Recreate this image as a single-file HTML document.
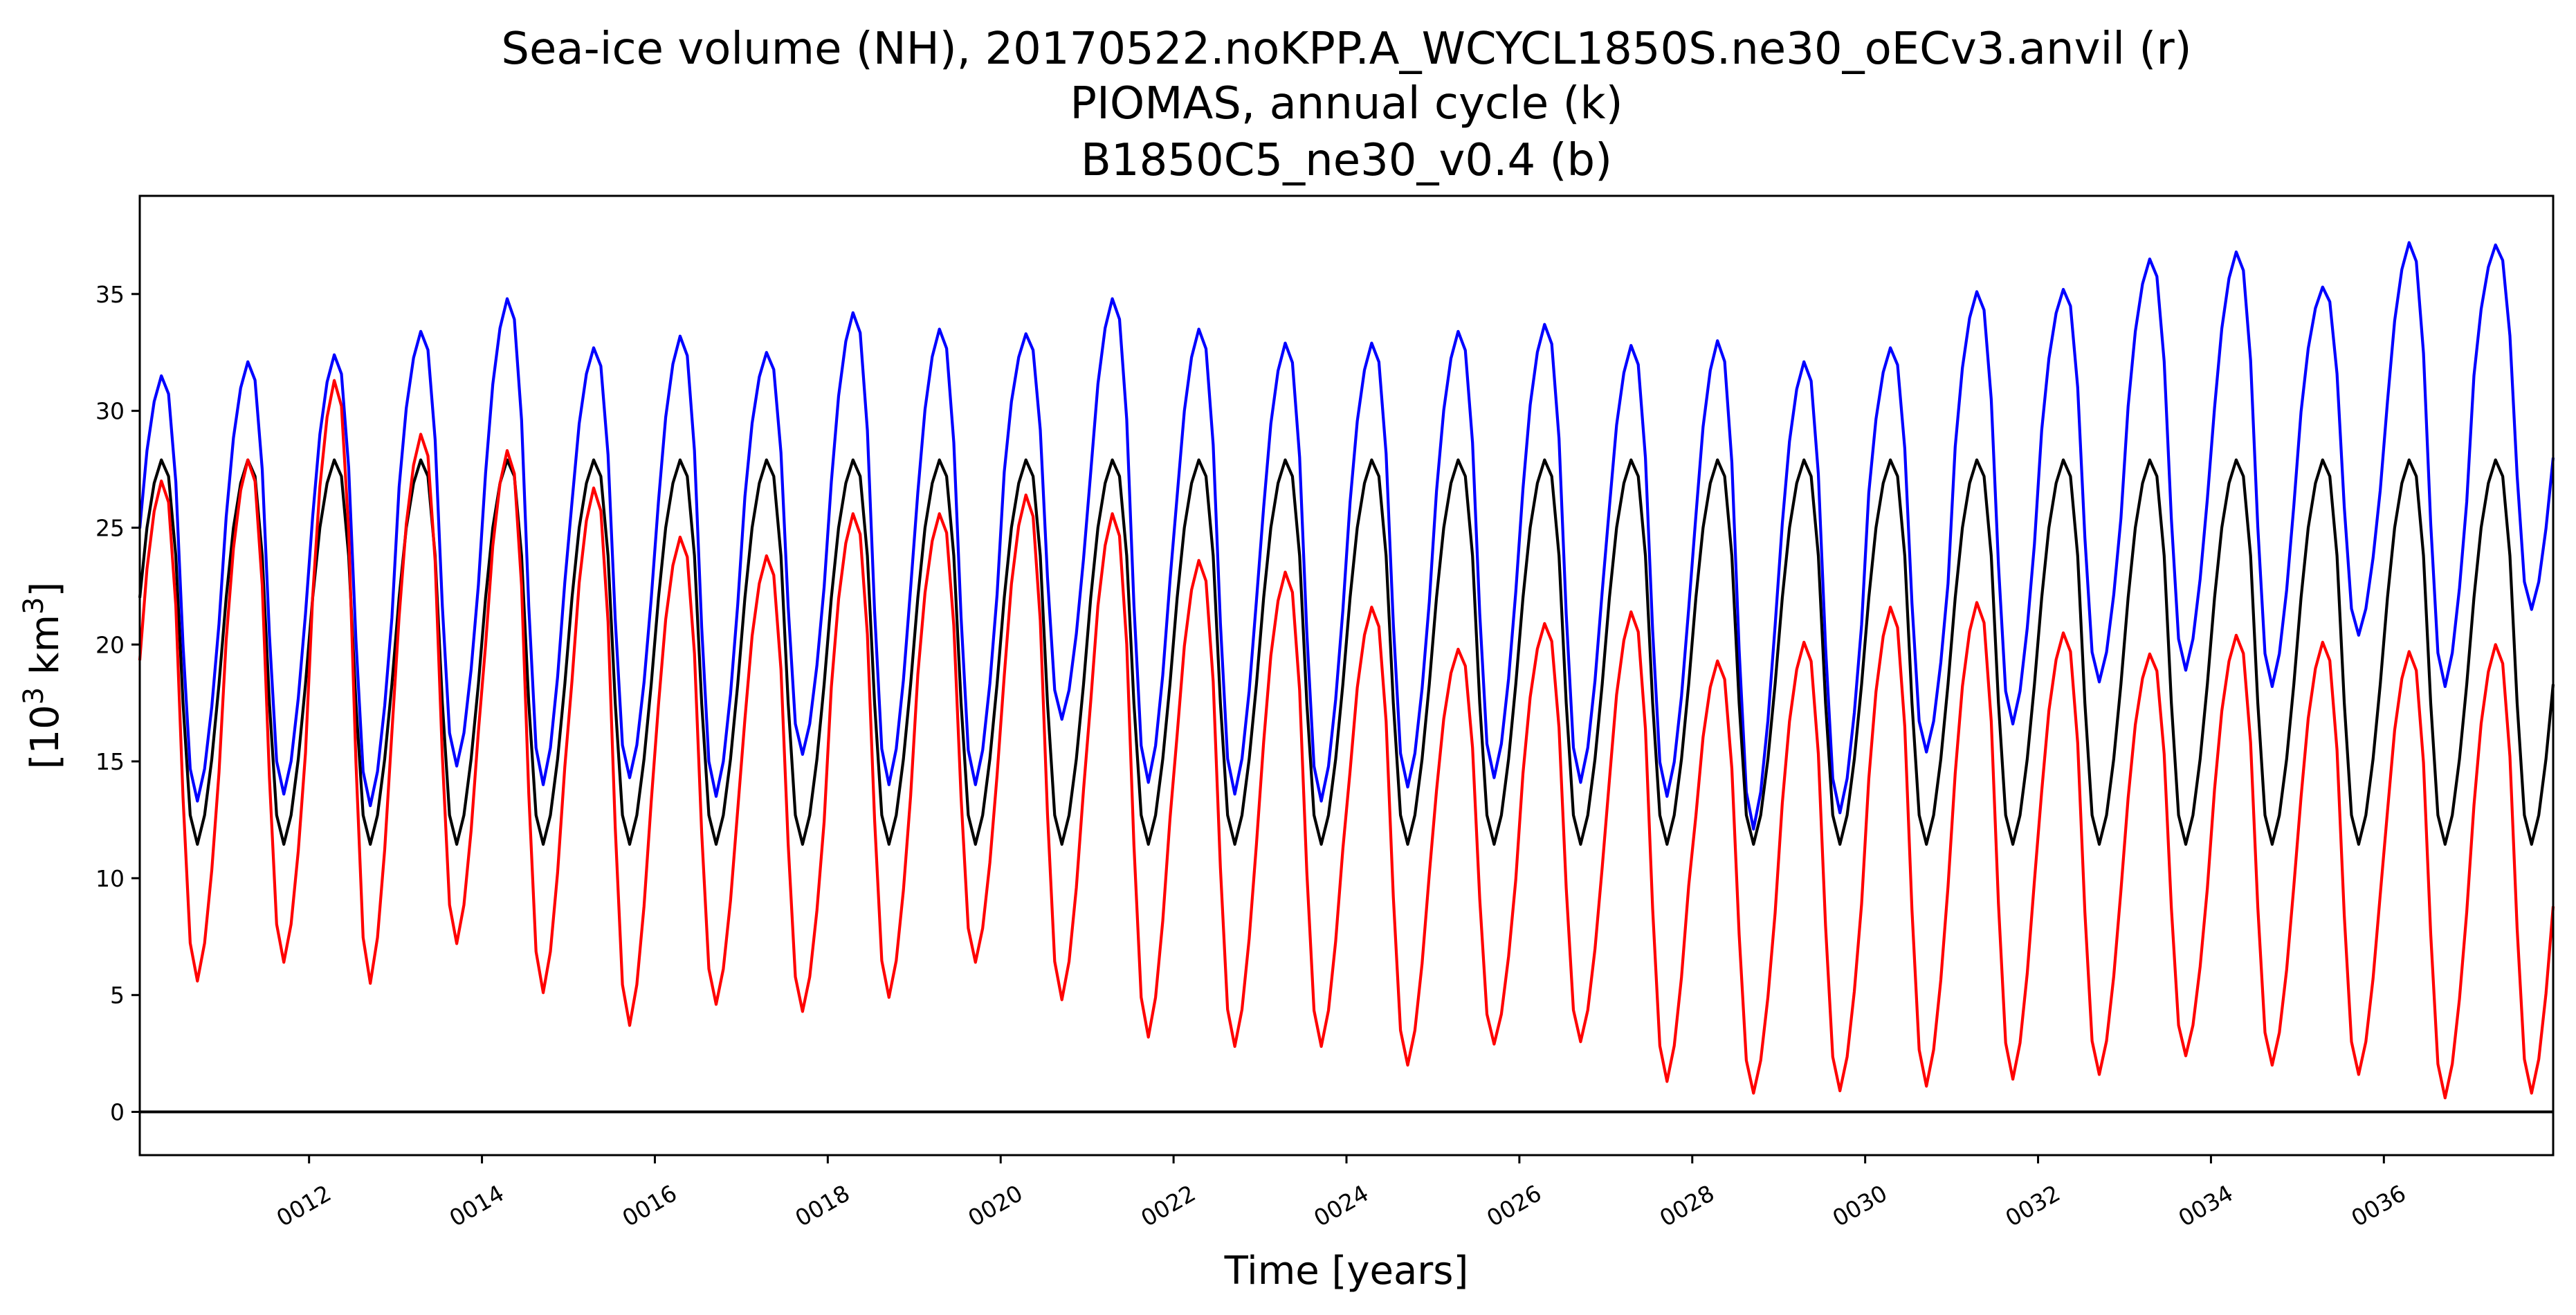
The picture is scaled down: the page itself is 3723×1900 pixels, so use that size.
<!DOCTYPE html>
<html><head><meta charset="utf-8">
<style>
html,body{margin:0;padding:0;background:#fff;}
svg{display:block;font-family:"DejaVu Sans","Liberation Sans",sans-serif;}
</style></head>
<body>
<svg id="chart" width="3723" height="1900" viewBox="0 0 3723 1900" xmlns="http://www.w3.org/2000/svg">
  <rect x="0" y="0" width="3723" height="1900" fill="#fff"/>
  <g font-size="64" text-anchor="middle" fill="#000">
    <text x="1946" y="92">Sea-ice volume (NH), 20170522.noKPP.A_WCYCL1850S.ne30_oECv3.anvil (r)</text>
    <text x="1946" y="171">PIOMAS, annual cycle (k)</text>
    <text x="1946" y="253">B1850C5_ne30_v0.4 (b)</text>
  </g>
  <g id="grid"></g>
  <g id="series"></g>
  <g id="axes"></g>
  <text x="1946" y="1855" font-size="56" text-anchor="middle">Time [years]</text>
  <text transform="translate(84,976) rotate(-90)" font-size="56" text-anchor="middle">[10<tspan font-size="40" dy="-22">3</tspan><tspan dy="22"> km</tspan><tspan font-size="40" dy="-22">3</tspan><tspan dy="22">]</tspan></text>
</svg>
<script>
// PIOMAS monthly climatology (Jan..Dec), 10^3 km^3
const piomasClim = [22.0, 25.0, 26.9, 27.9, 27.2, 23.8, 17.5, 12.7, 11.45, 12.7, 15.1, 18.3];
// Model years 0010..0037
const years = [10,11,12,13,14,15,16,17,18,19,20,21,22,23,24,25,26,27,28,29,30,31,32,33,34,35,36,37];
// Red run (anvil): annual max (spring) and min (Sep)
const redMax = [27.0,27.9,31.3,29.0,28.3,26.7,24.6,23.8,25.6,25.6,26.4,25.6,23.6,23.1,21.6,19.8,20.9,21.4,19.3,20.1,21.6,21.8,20.5,19.6,20.4,20.1,19.7,20.0];
const redMin = [5.6,6.4,5.5,7.2,5.1,3.7,4.6,4.3,4.9,6.4,4.8,3.2,2.8,2.8,2.0,2.9,3.0,1.3,0.8,0.9,1.1,1.4,1.6,2.4,2.0,1.6,0.6,0.8];
// Blue run (B1850C5): annual max and min
const blueMax = [31.5,32.1,32.4,33.4,34.8,32.7,33.2,32.5,34.2,33.5,33.3,34.8,33.5,32.9,32.9,33.4,33.7,32.8,33.0,32.1,32.7,35.1,35.2,36.5,36.8,35.3,37.2,37.1];
const blueMin = [13.3,13.6,13.1,14.8,14.0,14.3,13.5,15.3,14.0,14.0,16.8,14.1,13.6,13.3,13.9,14.3,14.1,13.5,12.1,12.8,15.4,16.6,18.4,18.9,18.2,20.4,18.2,21.5];
const yTicks = [0,5,10,15,20,25,30,35];
const xTickLabels = ["0012","0014","0016","0018","0020","0022","0024","0026","0028","0030","0032","0034","0036"];

const NS = "http://www.w3.org/2000/svg";
const L = 202, R = 3690, T = 283, B = 1669;
const xMin = 10 + 1/24, xMax = 37 + 23/24;
const yMin = -1.85, yMax = 39.2;
const xs = v => L + (v - xMin) / (xMax - xMin) * (R - L);
const ys = v => B - (v - yMin) / (yMax - yMin) * (B - T);

function mk(tag, attrs, parent) {
  const e = document.createElementNS(NS, tag);
  for (const k in attrs) e.setAttribute(k, attrs[k]);
  parent.appendChild(e);
  return e;
}
const cMax = Math.max(...piomasClim), cMin = Math.min(...piomasClim);
function buildSeries(maxArr, minArr) {
  const pts = [];
  years.forEach((yr, i) => {
    piomasClim.forEach((c, m) => {
      const s = (c - cMin) / (cMax - cMin);
      pts.push([yr + (m + 0.5) / 12, minArr[i] + (maxArr[i] - minArr[i]) * s]);
    });
  });
  return pts;
}
const blackPts = [];
years.forEach(yr => piomasClim.forEach((c, m) => blackPts.push([yr + (m + 0.5) / 12, c])));

const seriesG = document.getElementById('series');
const axesG = document.getElementById('axes');

// zero line
const zl = mk('line', {x1: L, x2: R, y1: ys(0), y2: ys(0), stroke: '#000', 'stroke-width': 4}, seriesG);



function drawLine(pts, color, name) {
  const d = pts.map((p, i) => (i ? 'L' : 'M') + xs(p[0]).toFixed(1) + ',' + ys(p[1]).toFixed(1)).join(' ');
  const p = mk('path', {d: d, fill: 'none', stroke: color, 'stroke-width': 4.2, 'stroke-linejoin': 'round'}, seriesG);
  
  
}
drawLine(buildSeries(blueMax, blueMin), '#0000ff', 'series-b1850c5');
drawLine(blackPts, '#000000', 'series-piomas');
drawLine(buildSeries(redMax, redMin), '#ff0000', 'series-anvil');

// frame
const fr = mk('rect', {x: L, y: T, width: R - L, height: B - T, fill: 'none', stroke: '#000', 'stroke-width': 3}, axesG);



// y ticks
yTicks.forEach(v => {
  const y = ys(v);
  const t = mk('line', {x1: L - 12, x2: L, y1: y, y2: y, stroke: '#000', 'stroke-width': 3}, axesG);
  
  
  const tx = mk('text', {x: L - 22, y: y + 12, 'font-size': 33, 'text-anchor': 'end'}, axesG);
  
  
  tx.textContent = String(v);
});
// x ticks
xTickLabels.forEach(lab => {
  const x = xs(parseInt(lab, 10));
  const t = mk('line', {x1: x, x2: x, y1: B, y2: B + 12, stroke: '#000', 'stroke-width': 3}, axesG);
  
  
  const tx = mk('text', {transform: 'translate(' + (x - 2) + ',' + 1752 + ') rotate(-30)', 'font-size': 33, 'text-anchor': 'middle'}, axesG);
  
  
  tx.textContent = lab;
});
</script>
</body></html>
